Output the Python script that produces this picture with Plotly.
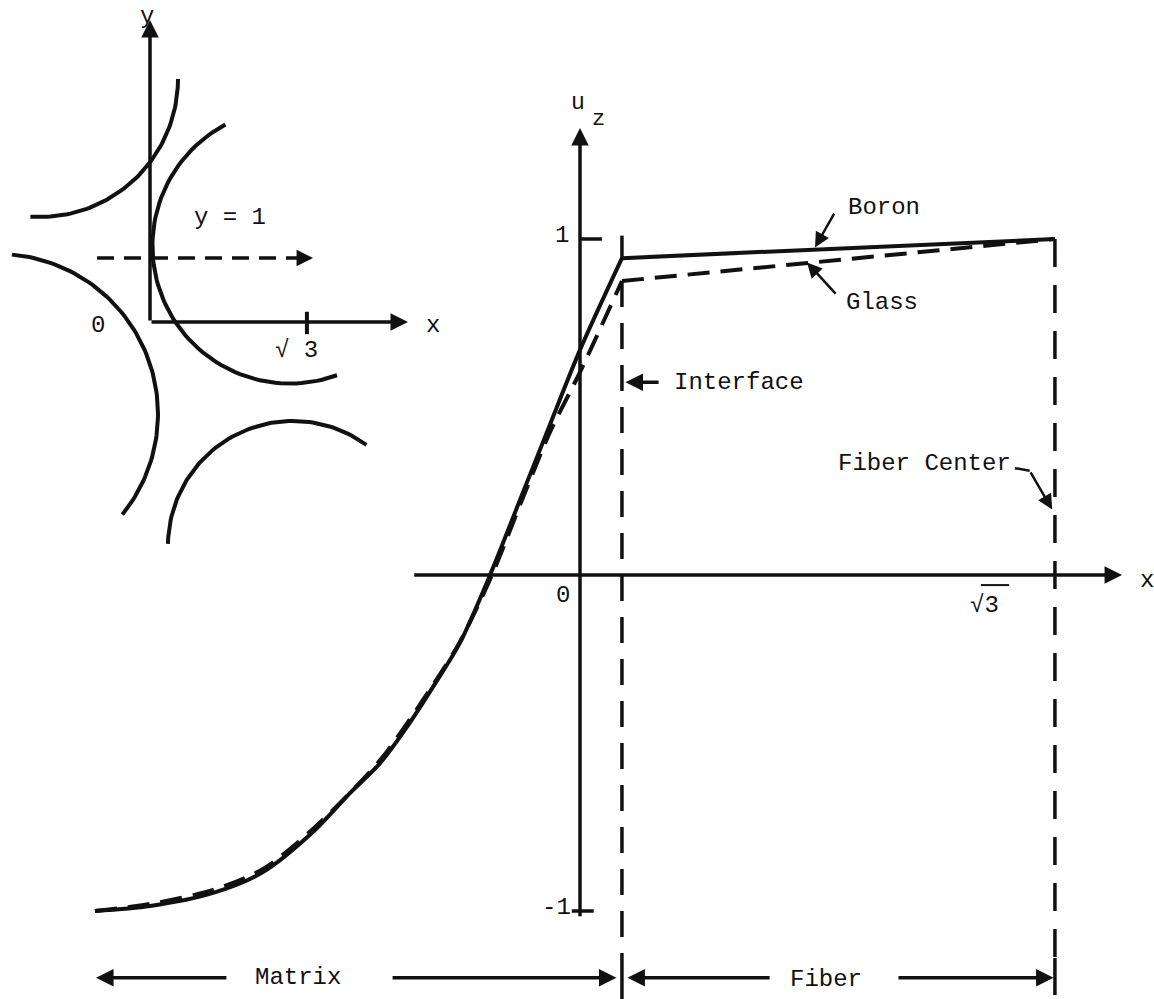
import numpy as np
import plotly.graph_objects as go

INK = "#111111"
FONT = "Liberation Mono, Courier New, monospace"
SQRT3 = 3 ** 0.5

# ---------------- main plot: u_z along the line y = 1 ----------------
X_INTERFACE = 0.153          # matrix / fiber interface
X_CENTER = SQRT3             # fiber center

boron_matrix_x = [-1.769, -1.568, -1.338, -1.156, -0.974, -0.839, -0.729, -0.631, -0.536,
                  -0.438, -0.328, -0.219, -0.109, 0.0, X_INTERFACE]
boron_matrix_u = [-1.0, -0.985, -0.946, -0.884, -0.765, -0.649, -0.560, -0.452, -0.333,
                  -0.202, 0.0, 0.223, 0.449, 0.670, 0.943]
boron_fiber_x = [X_INTERFACE, X_CENTER]
boron_fiber_u = [0.943, 1.0]

glass_matrix_x = [-1.769, -1.568, -1.338, -1.156, -0.974, -0.729, -0.536, -0.438, -0.321,
                  -0.219, -0.109, 0.0, X_INTERFACE]
glass_matrix_u = [-1.0, -0.979, -0.9375, -0.875, -0.756, -0.551, -0.327, -0.199, 0.0,
                  0.208, 0.426, 0.604, 0.875]
glass_fiber_x = [X_INTERFACE, X_CENTER]
glass_fiber_u = [0.875, 1.0]

u_ticks = [1, -1]
u_tick_labels = ["1", "-1"]

# ---------------- inset: fibre cross-sections around the unit cell ----------------
# (centre x, centre y, radius in x-units, start angle, end angle) in inset units
fibre_arcs = [
    (-1.214, 3.797, 1.523, -94, 0),
    (1.545, 1.1875, 1.518, 118, 290),
    (-1.678, -1.4375, 1.766, -39, 85),
    (1.578, -3.50, 1.380, 54, 179),
]
INSET_Y_STRETCH = 90.6 / 64.0   # inset drawn with a taller-than-wide aspect

W, H = 1154, 999
# main axes: origin at (580, 575) px, 274.2 px per x-unit, 336 px per u-unit
MX0, MXS, MY0, MYS = 580.0, 274.2, 575.0, 336.0
# inset axes: origin at (150, 322) px, 90.6 px per x-unit, 64 px per y-unit
IX0, IXS, IY0, IYS = 150.0, 90.6, 322.0, 64.0

fig = go.Figure()

solid = dict(color=INK, width=4)
dashed = dict(color=INK, width=4, dash="22px,11px")

fig.add_trace(go.Scatter(x=boron_matrix_x, y=boron_matrix_u, mode="lines",
                         line=dict(**solid, shape="spline", smoothing=0.8), name="Boron"))
fig.add_trace(go.Scatter(x=boron_fiber_x, y=boron_fiber_u, mode="lines", line=solid, name="Boron"))
fig.add_trace(go.Scatter(x=glass_matrix_x, y=glass_matrix_u, mode="lines",
                         line=dict(**dashed, shape="spline", smoothing=0.8), name="Glass"))
fig.add_trace(go.Scatter(x=glass_fiber_x, y=glass_fiber_u, mode="lines", line=dashed, name="Glass"))

# inset fibre arcs
for cx, cy, r, t0, t1 in fibre_arcs:
    t = np.radians(np.linspace(t0, t1, 80))
    fig.add_trace(go.Scatter(x=cx + r * np.cos(t), y=cy + r * INSET_Y_STRETCH * np.sin(t),
                             mode="lines", line=dict(color=INK, width=4),
                             xaxis="x2", yaxis="y2", hoverinfo="skip"))


def arrow(x0, y0, x1, y1, ax="x", ay="y", width=3.5, size=1.1, head=2):
    fig.add_annotation(x=x1, y=y1, ax=x0, ay=y0, xref=ax, yref=ay, axref=ax, ayref=ay,
                       text="", showarrow=True, arrowhead=head, arrowsize=size,
                       arrowwidth=width, arrowcolor=INK, standoff=0, startstandoff=0)


def seg(x0, y0, x1, y1, xref="x", yref="y", width=3.5, dash=None):
    fig.add_shape(type="line", x0=x0, y0=y0, x1=x1, y1=y1, xref=xref, yref=yref,
                  line=dict(color=INK, width=width, dash=dash))


def label(x, y, text, xref="x", yref="y", size=24, anchor="center"):
    fig.add_annotation(x=x, y=y, xref=xref, yref=yref, text=text, showarrow=False,
                       xanchor=anchor, yanchor="middle",
                       font=dict(family=FONT, size=size, color=INK))


# ---- main axes ----
arrow(-0.61, 0, 1.977, 0, width=3.5, size=1.0)
arrow(0, -1.02, 0, 1.33, width=3.5, size=1.0)
seg(0, u_ticks[0], 0.08, u_ticks[0])
seg(-0.03, u_ticks[1], 0.05, u_ticks[1])
label(-0.066, u_ticks[0] + 0.009, u_tick_labels[0])
label(-0.084, u_ticks[1] + 0.009, u_tick_labels[1])
label(-0.062, -0.062, "0")
label(1.477, -0.092, "\u221a3")
seg(1.462, -0.03, 1.565, -0.03, width=2)
label(2.068, -0.015, "x")
label(-0.007, 1.405, "u", size=23)
label(0.066, 1.355, "z", size=22)

# ---- interface and fiber-center verticals ----
seg(X_INTERFACE, 1.01, X_INTERFACE, boron_fiber_u[0], width=3.5)
seg(X_INTERFACE, glass_fiber_u[0], X_INTERFACE, -1.14, width=3.5, dash="26px,16px")
seg(X_INTERFACE, -1.14, X_INTERFACE, -1.265, width=3.5)
seg(X_CENTER, boron_fiber_u[1], X_CENTER, -1.14, width=3.5, dash="28px,18px")
seg(X_CENTER, -1.14, X_CENTER, -1.25, width=3.5)

# ---- callouts ----
arrow(0.930, 1.080, 0.857, 0.975, width=2.5, size=1.2)
label(1.109, 1.095, "Boron")
arrow(0.937, 0.833, 0.828, 0.930, width=2.5, size=1.2)
label(1.101, 0.8125, "Glass")
arrow(0.292, 0.574, 0.166, 0.574, width=3.5, size=1.0)
label(0.3355, 0.574, "Interface", anchor="left")
label(1.579, 0.333, "Fiber Center", anchor="right")
seg(1.586, 0.318, 1.64, 0.31, width=2.5)
arrow(1.64, 0.31, 1.722, 0.195, width=2.5, size=1.2)

# ---- region dimension lines ----
DIM_U = -1.199
arrow(-1.284, DIM_U, -1.765, DIM_U, width=3.5, size=1.0)
arrow(-0.689, DIM_U, X_INTERFACE - 0.02, DIM_U, width=3.5, size=1.0)
label(-1.028, DIM_U, "Matrix")
arrow(0.697, DIM_U, X_INTERFACE + 0.02, DIM_U, width=3.5, size=1.0)
arrow(1.156, DIM_U, X_CENTER - 0.005, DIM_U, width=3.5, size=1.0)
label(0.897, DIM_U - 0.006, "Fiber")

# ---- inset axes and the dashed y = 1 traverse ----
arrow(0, 0, 0, 4.72, ax="x2", ay="y2", width=3.5, size=1.0)
arrow(0, 0, 2.848, 0, ax="x2", ay="y2", width=3.5, size=1.0)
seg(SQRT3, 0.16, SQRT3, -0.19, xref="x2", yref="y2", width=4)
seg(-0.585, 1, 1.66, 1, xref="x2", yref="y2", width=3.5, dash="17px,10px")
arrow(1.62, 1, 1.80, 1, ax="x2", ay="y2", width=3.0, size=1.1)
label(-0.033, 4.78, "y", xref="x2", yref="y2")
label(3.12, -0.047, "x", xref="x2", yref="y2")
label(-0.574, -0.047, "0", xref="x2", yref="y2")
label(1.62, -0.44, "\u221a 3", xref="x2", yref="y2")
label(0.883, 1.64, "y = 1", xref="x2", yref="y2")

hidden = dict(visible=False, showgrid=False, zeroline=False, fixedrange=True)
fig.update_layout(
    width=W, height=H, autosize=False,
    margin=dict(l=0, r=0, t=0, b=0),
    paper_bgcolor="white", plot_bgcolor="white",
    showlegend=False,
    xaxis=dict(range=[(0 - MX0) / MXS, (W - MX0) / MXS], domain=[0, 1], **hidden),
    yaxis=dict(range=[(MY0 - H) / MYS, MY0 / MYS], domain=[0, 1], **hidden),
    xaxis2=dict(range=[(0 - IX0) / IXS, (W - IX0) / IXS], domain=[0, 1],
                overlaying="x", anchor="y2", **hidden),
    yaxis2=dict(range=[(IY0 - H) / IYS, IY0 / IYS], domain=[0, 1],
                overlaying="y", anchor="x2", **hidden),
)

fig.write_html("out.html")
